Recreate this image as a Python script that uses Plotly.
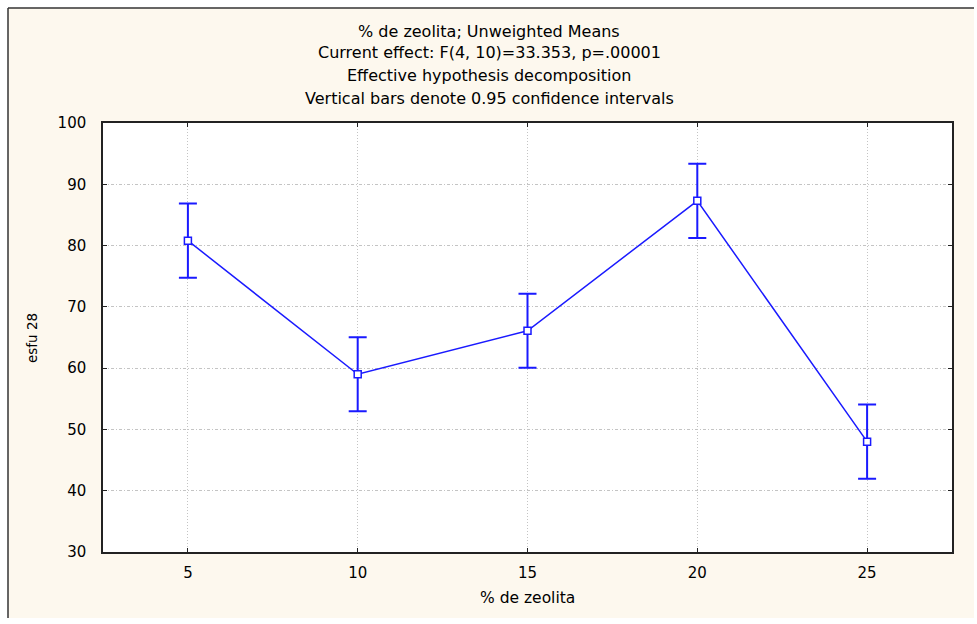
import plotly.graph_objects as go

# Zeolite content (%) and unweighted means of esfu 28 with 0.95 CI half-widths
zeolita = [5, 10, 15, 20, 25]
esfu28 = [80.8, 59.0, 66.1, 87.3, 48.0]
ci95 = [6.05, 6.05, 6.05, 6.05, 6.05]

title_lines = [
    "% de zeolita; Unweighted Means",
    "Current effect: F(4, 10)=33.353, p=.00001",
    "Effective hypothesis decomposition",
    "Vertical bars denote 0.95 confidence intervals",
]

W, H = 977, 624
L, R, T, B = 103, 952, 123, 552
pw, ph = R - L, B - T

def px(x):
    return (x - L) / pw

def py(y):
    return (B - y) / ph

blue = "#1a1aff"
font = "DejaVu Sans, Verdana, sans-serif"

fig = go.Figure()
fig.add_trace(go.Scatter(
    x=zeolita, y=esfu28,
    mode="lines+markers",
    line=dict(color=blue, width=1.5),
    marker=dict(symbol="square", size=7, color="white",
                line=dict(color=blue, width=1.5)),
    error_y=dict(type="data", array=ci95, visible=True,
                 color=blue, thickness=2, width=9),
    showlegend=False,
    cliponaxis=False,
))

shapes = [
    # cream frame background
    dict(type="rect", xref="paper", yref="paper", layer="below",
         x0=px(8), x1=px(974), y0=py(618), y1=py(8),
         fillcolor="#fdf8ee", line=dict(width=0)),
    # white plotting area
    dict(type="rect", xref="paper", yref="paper", layer="below",
         x0=0, x1=1, y0=0, y1=1, fillcolor="white", line=dict(width=0)),
    # dark frame edges at top and left
    dict(type="line", xref="paper", yref="paper",
         x0=px(8), x1=px(974), y0=py(8), y1=py(8),
         line=dict(color="#333333", width=1.5)),
    dict(type="line", xref="paper", yref="paper",
         x0=px(8), x1=px(8), y0=py(8), y1=py(618),
         line=dict(color="#333333", width=1.5)),
]

annotations = []
for t, ypos in zip(title_lines, [32, 53, 75, 98]):
    annotations.append(dict(
        text=t, xref="paper", yref="paper",
        x=px(489), y=py(ypos),
        xanchor="center", yanchor="middle", showarrow=False,
        font=dict(family=font, size=16, color="black"),
    ))
annotations.append(dict(
    text="% de zeolita", xref="paper", yref="paper",
    x=px(527), y=py(598), xanchor="center", yanchor="middle",
    showarrow=False, font=dict(family=font, size=15.5, color="black"),
))
annotations.append(dict(
    text="esfu 28", xref="paper", yref="paper", textangle=-90,
    x=px(32), y=py(338), xanchor="center", yanchor="middle",
    showarrow=False, font=dict(family=font, size=13.5, color="black"),
))

axis_common = dict(
    showline=True, linecolor="#222222", linewidth=1.5, mirror="allticks",
    ticks="inside", ticklen=4, tickcolor="#222222",
    showgrid=True, gridcolor="#c4c4c4", gridwidth=1,
    zeroline=False,
    tickfont=dict(family=font, size=15, color="black"),
)

fig.update_layout(
    width=W, height=H,
    margin=dict(l=L, r=W - R, t=T, b=H - B, pad=0),
    paper_bgcolor="white",
    plot_bgcolor="white",
    shapes=shapes,
    annotations=annotations,
    xaxis=dict(range=[2.5, 27.5], tickvals=zeolita, griddash="1px,2px",
               ticklabelstandoff=6, **axis_common),
    yaxis=dict(range=[30, 100], tickvals=[30, 40, 50, 60, 70, 80, 90, 100],
               griddash="3px,2px,1px,2px", ticklabelstandoff=12, **axis_common),
)

fig.write_html("out.html")
